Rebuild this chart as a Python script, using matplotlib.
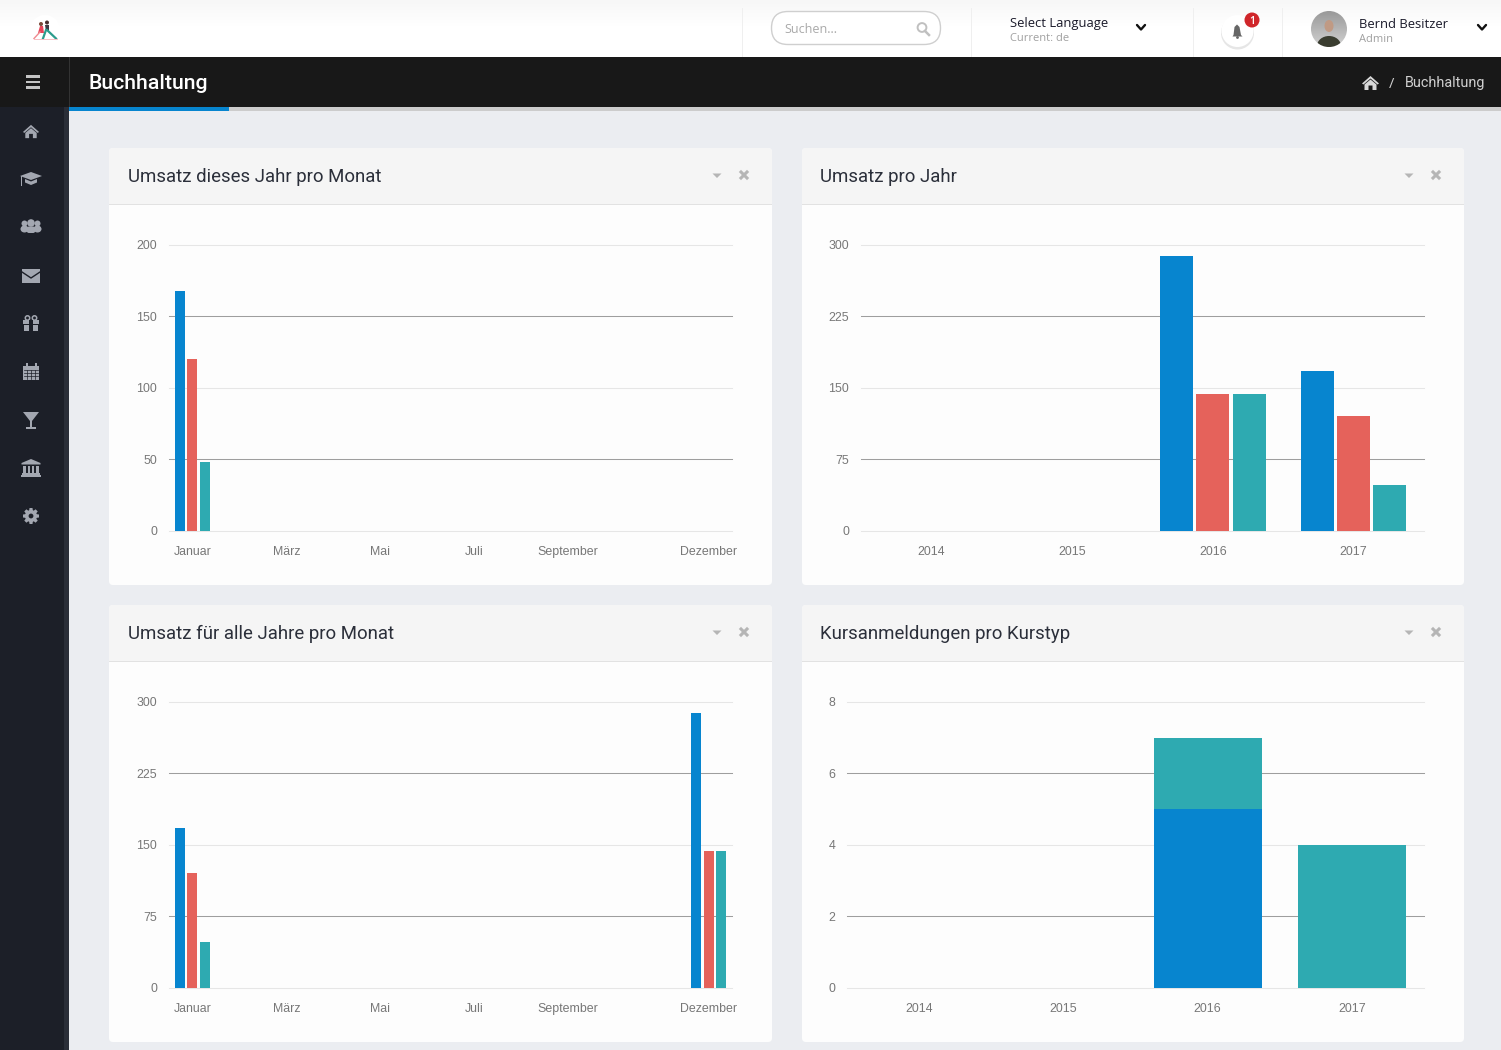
import numpy as np
import matplotlib
matplotlib.use("Agg")
import matplotlib.pyplot as plt
from matplotlib.patches import Rectangle, Circle, Polygon, FancyBboxPatch, Ellipse

W, H = 1501, 1050
BLUE, RED, TEAL = "#0785cf", "#e5625b", "#2eaab1"
ICON = "#a3a7b1"
TICK = "#777777"

months = ["Januar", "Februar", "März", "April", "Mai", "Juni", "Juli", "August",
          "September", "Oktober", "November", "Dezember"]
month_ticks = [0, 2, 4, 6, 8, 11]
years = ["2014", "2015", "2016", "2017"]

m1_blue = [168, 0, 0, 0, 0, 0, 0, 0, 0, 0, 0, 0]
m1_red = [120, 0, 0, 0, 0, 0, 0, 0, 0, 0, 0, 0]
m1_teal = [48, 0, 0, 0, 0, 0, 0, 0, 0, 0, 0, 0]

y_blue = [0, 0, 288, 168]
y_red = [0, 0, 144, 120]
y_teal = [0, 0, 144, 48]

m_all_blue = [168, 0, 0, 0, 0, 0, 0, 0, 0, 0, 0, 288]
m_all_red = [120, 0, 0, 0, 0, 0, 0, 0, 0, 0, 0, 144]
m_all_teal = [48, 0, 0, 0, 0, 0, 0, 0, 0, 0, 0, 144]

k_blue = [0, 0, 5, 0]
k_teal = [0, 0, 2, 4]

titles = ["Umsatz dieses Jahr pro Monat", "Umsatz pro Jahr",
          "Umsatz für alle Jahre pro Monat", "Kursanmeldungen pro Kurstyp"]

fig = plt.figure(figsize=(W / 100, H / 100), dpi=100, facecolor="#ebedf1")
bg = fig.add_axes([0, 0, 1, 1], zorder=0)
bg.set_xlim(0, W)
bg.set_ylim(H, 0)
bg.axis("off")


def rect(x0, y0, x1, y1, c, z=1, **kw):
    bg.add_patch(Rectangle((x0, y0), x1 - x0, y1 - y0, fc=c, ec="none", zorder=z, **kw))


def poly(pts, c=ICON, z=5):
    bg.add_patch(Polygon(pts, closed=True, fc=c, ec="none", zorder=z))


def circ(x, y, r, c=ICON, z=5, **kw):
    bg.add_patch(Circle((x, y), r, fc=c, ec=kw.pop("ec", "none"), zorder=z, **kw))


def txt(x, y, s, size, c, fam="Open Sans", ha="left", va="center", **kw):
    bg.text(x, y, s, fontsize=size, color=c, family=fam, ha=ha, va=va, zorder=8, **kw)


# top bar
bg.imshow(np.linspace(0.965, 1, 30).reshape(-1, 1), extent=(0, W, 30, 0), cmap="gray",
          vmin=0, vmax=1, aspect="auto", zorder=0.5)
bg.set_xlim(0, W)
bg.set_ylim(H, 0)
rect(0, 30, W, 57, "white")
for xd in [742, 971, 1193, 1282]:
    rect(xd - 0.5, 8, xd + 1, 57, "#efefef", 2)

# black header
rect(0, 57, W, 107, "#181818", 2)
rect(69, 57, 70, 107, "#333333", 3)
rect(69, 107, W, 111, "#cccccc", 2)
rect(69, 107, 229, 111, BLUE, 3)

# sidebar
rect(0, 107, 64, H, "#1c1f28", 2)
rect(64, 107, 69, H, "#2a2e38", 2)

# hamburger
for yy in [76.5, 82, 87.5]:
    rect(25.5, yy - 1.3, 40, yy + 1.3, "#c4c4c4", 4)

txt(89, 83.5, "Buchhaltung", 15.3, "white", fam="Roboto", fontweight="medium")
txt(1405, 83.5, "Buchhaltung", 10.4, "#d0d0d0", fam="Roboto")
txt(1392, 84, "/", 10.5, "#d0d0d0", ha="center")


def home(x, y, s=1.0, c=ICON):
    poly([(x - 8.5 * s, y + 0.5 * s), (x, y - 7 * s), (x + 8.5 * s, y + 0.5 * s), (x + 7 * s, y + 1.5 * s),
          (x, y - 4.5 * s), (x - 7 * s, y + 1.5 * s)], c)
    poly([(x - 6 * s, y + 1.5 * s), (x, y - 3.5 * s), (x + 6 * s, y + 1.5 * s), (x + 6 * s, y + 7 * s),
          (x + 2 * s, y + 7 * s), (x + 2 * s, y + 2.5 * s), (x - 2 * s, y + 2.5 * s), (x - 2 * s, y + 7 * s),
          (x - 6 * s, y + 7 * s)], c)


home(1370.5, 83, 1.0, "#d8d8d8")
home(31, 131.5, 0.95)

# graduation cap
x, y = 31, 179
poly([(x - 11, y - 3), (x, y - 7), (x + 11, y - 3), (x, y + 1)])
poly([(x - 6, y), (x, y + 2.5), (x + 6, y), (x + 6, y + 3.5), (x, y + 6), (x - 6, y + 3.5)])
rect(x - 10, y - 3, x - 9, y + 7, ICON, 5)

# users
x, y = 31, 227
for dx, r in [(-6.5, 3), (6.5, 3)]:
    circ(x + dx, y - 3.5, r)
    bg.add_patch(Ellipse((x + dx, y + 2), 8, 7, fc=ICON, ec="none", zorder=5))
circ(x, y - 4, 3.8)
bg.add_patch(FancyBboxPatch((x - 4.5, y - 0.5), 9, 6.5, boxstyle="round,pad=0,rounding_size=2.5",
                            fc=ICON, ec="none", zorder=5))

# envelope
x, y = 31, 276
rect(x - 9, y - 7, x + 9, y + 7, ICON, 5)
bg.plot([x - 9, x, x + 9], [y - 4, y + 2, y - 4], color="#1c1f28", lw=1, zorder=6)

# gift
x, y = 31, 323.5
rect(x - 8, y - 3.5, x + 8, y + 0.5, ICON, 5)
rect(x - 7, y + 1.5, x + 7, y + 7, ICON, 5)
rect(x - 1.6, y - 3.5, x + 1.6, y + 7, "#1c1f28", 6)
for dx in (-3.5, 3.5):
    bg.add_patch(Circle((x + dx, y - 5.5), 2.2, fc="none", ec=ICON, lw=1.1, zorder=5))

# calendar
x, y = 31, 372
rect(x - 8, y - 6.5, x + 8, y + 8, ICON, 5)
for v in [-4, 0, 4]:
    bg.plot([x + v, x + v], [y - 2, y + 7], color="#1c1f28", lw=0.5, zorder=6)
for v in [-2, 1, 4]:
    bg.plot([x - 7, x + 7], [y + v, y + v], color="#1c1f28", lw=0.5, zorder=6)
for v in [-4.5, 4.5]:
    rect(x + v - 1, y - 9, x + v + 1, y - 4.5, ICON, 6)

# glass
x, y = 31, 420
poly([(x - 8, y - 8), (x + 8, y - 8), (x + 1, y + 1), (x + 1, y + 7), (x + 5, y + 7), (x + 5, y + 9),
      (x - 5, y + 9), (x - 5, y + 7), (x - 1, y + 7), (x - 1, y + 1)])

# bank
x, y = 31, 468
poly([(x - 9.5, y - 5), (x, y - 9), (x + 9.5, y - 5), (x + 9.5, y - 3.5), (x - 9.5, y - 3.5)])
for v in [-6.5, -2.2, 2.2, 6.5]:
    rect(x + v - 1.2, y - 2.5, x + v + 1.2, y + 5, ICON, 5)
rect(x - 9, y + 5, x + 9, y + 6.5, ICON, 5)
rect(x - 10, y + 7, x + 10, y + 9, ICON, 5)

# gear
x, y = 31, 516
circ(x, y, 6)
for a in np.arange(0, 360, 45):
    t = np.deg2rad(a)
    n = np.array([np.cos(t), np.sin(t)])
    p = np.array([-n[1], n[0]])
    c0 = np.array([x, y])
    poly([c0 + n * 5 + p * 1.9, c0 + n * 8 + p * 1.5, c0 + n * 8 - p * 1.5, c0 + n * 5 - p * 1.9])
circ(x, y, 2.4, "#1c1f28", 6)

# logo
circ(45, 30, 15, "white", 2)
circ(41, 24, 2, "#7a4a3a", 4)
circ(47, 22.5, 2, "#4a3030", 4)
poly([(40, 26), (43, 26), (44, 33), (38, 33)], "#e8455a", 4)
poly([(45, 25), (49, 25), (49, 31), (46, 31)], "#3a3a44", 4)
bg.plot([47, 56], [30, 38.5], color="#2c9c8c", lw=1.6, zorder=4)
bg.plot([46, 43], [30, 38.5], color="#2c9c8c", lw=1.6, zorder=4)
bg.plot([40, 34], [32, 38.5], color="#f08a90", lw=1, zorder=4)
bg.plot([34, 57], [39, 39], color="#f6c0c4", lw=0.7, zorder=4)

# search
bg.add_patch(FancyBboxPatch((771.5, 11.5), 169, 33, boxstyle="round,pad=0,rounding_size=16.5",
                            fc="white", ec="#cfcfcf", lw=1, zorder=3))
txt(784, 29.5, "Suchen...", 9.0, "#a9a9a9")
bg.add_patch(Circle((922, 27.5), 4.4, fc="none", ec="#c0c0c0", lw=1.4, zorder=4))
bg.plot([925, 929], [31, 35], color="#c0c0c0", lw=1.8, zorder=4)

# language
txt(1010, 24, "Select Language", 9.35, "#1a1a2a")
txt(1010, 38.5, "Current: de", 8.0, "#a0a0a0")
for xc in [1141, 1482]:
    bg.plot([xc - 4, xc, xc + 4], [25, 29.5, 25], color="#111111", lw=1.7, zorder=4,
            solid_capstyle="round")

# bell
circ(1237.5, 33, 16.5, "#e6e6e6", 3)
circ(1237.5, 31, 16, "white", 3)
poly([(1233.5, 35), (1234.5, 27), (1237, 24.5), (1239.5, 27), (1241, 35), (1242.5, 36.5), (1232.5, 36.5)], "#666666", 4)
circ(1237.5, 37.5, 1.4, "#666666", 4)
circ(1252, 20, 7.5, "#d0262a", 4)
txt(1252, 21, "1", 7.6, "white", ha="center", fontweight="semibold")

# user
txt(1359, 25, "Bernd Besitzer", 9.4, "#1a1a2a")
txt(1359, 40, "Admin", 8.0, "#a0a0a0")
clip = Circle((1329, 29), 18, transform=bg.transData)
bg.imshow(np.linspace(0.6, 0.82, 40).reshape(-1, 1), extent=(1311, 1347, 47, 11), cmap="gray", vmin=0, vmax=1,
          aspect="auto", zorder=3, clip_path=clip)
bg.set_xlim(0, W)
bg.set_ylim(H, 0)
bg.add_patch(Ellipse((1329, 26), 9, 12, fc="#c09a84", ec="none", zorder=4))
body = Ellipse((1329, 46), 24, 20, fc="#3a3d30", ec="none", zorder=4)
bg.add_patch(body)
body.set_clip_path(Circle((1329, 29), 18, transform=bg.transData))

# panels
panels = [(109, 148, 772, 585), (802, 148, 1464, 585), (109, 605, 772, 1042), (802, 605, 1464, 1042)]
for (x0, y0, x1, y1), title in zip(panels, titles):
    bg.add_patch(FancyBboxPatch((x0, y0), x1 - x0, y1 - y0, boxstyle="round,pad=0,rounding_size=4",
                                fc="#fdfdfd", ec="none", zorder=1))
    bg.add_patch(FancyBboxPatch((x0, y0), x1 - x0, 56, boxstyle="round,pad=0,rounding_size=4",
                                fc="#f5f5f5", ec="none", zorder=1.1))
    rect(x0, y0 + 52, x1, y0 + 56, "#f5f5f5", 1.2)
    rect(x0, y0 + 56, x1, y0 + 57, "#e2e2e2", 1.3)
    txt(x0 + 18.5, y0 + 29, title, 13.4, "#2b2f3a", fam="Roboto")
    xt = x1 - 55
    poly([(xt - 4.5, y0 + 25.5), (xt + 4.5, y0 + 25.5), (xt, y0 + 30)], "#b5b5b5", 3)
    xc = x1 - 28
    for s in (1, -1):
        bg.plot([xc - 3, xc + 3], [y0 + 27 - 3 * s, y0 + 27 + 3 * s], color="#b5b5b5", lw=2.2, zorder=3)


def chart(x0, x1, y_top, y_zero, ymax, yticks, labels, ticks, series, bar_px, step_px, stacked=False):
    ax = fig.add_axes([x0 / W, 1 - y_zero / H, (x1 - x0) / W, (y_zero - y_top) / H], zorder=2)
    ax.patch.set_alpha(0)
    n = len(labels)
    cat_px = (x1 - x0) / n
    ax.set_xlim(-0.5, n - 0.5)
    ax.set_ylim(0, ymax)
    ax.set_yticks(yticks)
    ax.set_xticks(ticks, [labels[i] for i in ticks])
    for s in ax.spines.values():
        s.set_visible(False)
    ax.tick_params(length=0)
    ax.tick_params(axis="y", pad=8.5)
    ax.tick_params(axis="x", pad=11.2)
    for t in ax.get_xticklabels() + ax.get_yticklabels():
        t.set_fontfamily("Liberation Sans")
        t.set_fontsize(8.9)
        t.set_color(TICK)
    ax.set_axisbelow(True)
    ax.yaxis.grid(True, lw=0.75)
    for i, g in enumerate(ax.get_ygridlines()):
        g.set_color("#e6e6e6" if i % 2 == 0 else "#9e9e9e")
        g.set_clip_on(False)
    xs = np.arange(n)
    if stacked:
        bottom = np.zeros(n)
        for vals, c in series:
            ax.bar(xs, vals, bar_px / cat_px, bottom=bottom, color=c, linewidth=0)
            bottom = bottom + np.array(vals)
    else:
        m = len(series)
        for j, (vals, c) in enumerate(series):
            ax.bar(xs + (j - (m - 1) / 2) * step_px / cat_px, vals, bar_px / cat_px, color=c, linewidth=0)
    return ax


chart(169, 732, 244.8, 530.8, 200, [0, 50, 100, 150, 200], months, month_ticks,
      [(m1_blue, BLUE), (m1_red, RED), (m1_teal, TEAL)], 10, 12.5)
chart(861, 1424, 244.8, 530.8, 300, [0, 75, 150, 225, 300], years, [0, 1, 2, 3],
      [(y_blue, BLUE), (y_red, RED), (y_teal, TEAL)], 33, 36.2)
chart(169, 732, 701.8, 987.8, 300, [0, 75, 150, 225, 300], months, month_ticks,
      [(m_all_blue, BLUE), (m_all_red, RED), (m_all_teal, TEAL)], 10, 12.5)
chart(847, 1424, 701.8, 987.8, 8, [0, 2, 4, 6, 8], years, [0, 1, 2, 3],
      [(k_blue, BLUE), (k_teal, TEAL)], 108, 0, stacked=True)

fig.savefig("out.png", dpi=100, facecolor=fig.get_facecolor())
